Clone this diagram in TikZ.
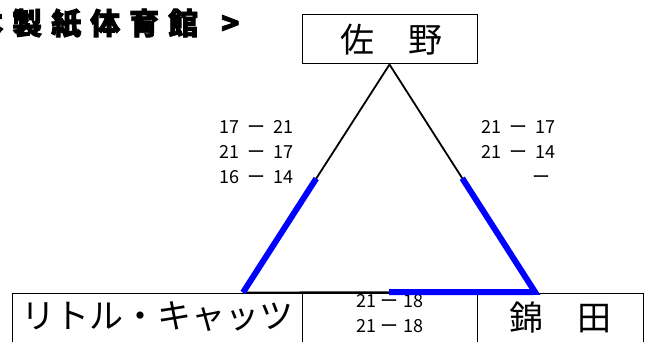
\documentclass[tikz,border=0pt]{standalone}
\usepackage{fontspec}
\setmainfont{Noto Sans CJK JP}
\usetikzlibrary{calc}
\newcommand{\scoreline}[2]{#1\hspace{8pt}ー\hspace{8pt}#2}
\newcommand{\midline}[2]{#1\hspace{5pt}ー\hspace{5pt}#2}
\begin{document}
\begin{tikzpicture}[x=1pt,y=1pt,
  box/.style={draw=black, line width=1pt, inner sep=0pt},
  namefont/.style={font=\fontsize{34}{34}\selectfont},
  scorefont/.style={font=\fontsize{18}{25}\selectfont, align=left, inner sep=0pt},
  tri/.style={draw=black, line width=1.8pt},
  win/.style={draw=blue, line width=6pt, line join=miter}]
\useasboundingbox (0,0) rectangle (653,342);
\clip (0,0) rectangle (653,342);
% title
\node[anchor=west, inner sep=0pt, font=\fontsize{30}{30}\selectfont\bfseries\addfontfeature{FakeBold=2.5}] (title) at (-27,318.5)
  {本\hspace{9pt}製\hspace{9pt}紙\hspace{9pt}体\hspace{9pt}育\hspace{9pt}館\hspace{23pt}>};
% boxes
\node[box, minimum width=175pt, minimum height=49pt] (sano) at (389.5,302.5) {};
\node[namefont] (sanotext) at (391,302) {佐　野};
\node[box, minimum width=290pt, minimum height=60pt, anchor=north west] (lbox) at (12,49) {};
\node[box, minimum width=175pt, minimum height=60pt, anchor=north west] (mbox) at (302,49) {};
\node[box, minimum width=166pt, minimum height=60pt, anchor=north west] (rbox) at (477,49) {};
\node[namefont] (ltext) at (157,25) {リトル・キャッツ};
\node[namefont] (rtext) at (560,25) {錦　田};
% scores
\node[scorefont, anchor=north west] (lscore) at (219,222) {\scoreline{17}{21}\\\scoreline{21}{17}\\\scoreline{16}{14}};
\node[scorefont, anchor=north west] (rscore) at (481,222) {\scoreline{21}{17}\\\scoreline{21}{14}\\\hspace{51pt}ー};
\node[scorefont, align=center] (mscore) at (390,28) {\midline{21}{18}\\\midline{21}{18}};
% triangle
\coordinate (A) at (sano.south);
\coordinate (L) at (243,49.5);
\coordinate (R) at (535,50);
\draw[tri] (A) -- (L);
\draw[tri] (A) -- (R);
\draw[tri] (L) -- (R);
\draw[win] ($(A)!0.5!(L)$) -- (L);
\draw[win] ($(A)!0.5!(R)$) -- (R) -- ($(L)!0.5!(R)$);
\end{tikzpicture}
\end{document}
